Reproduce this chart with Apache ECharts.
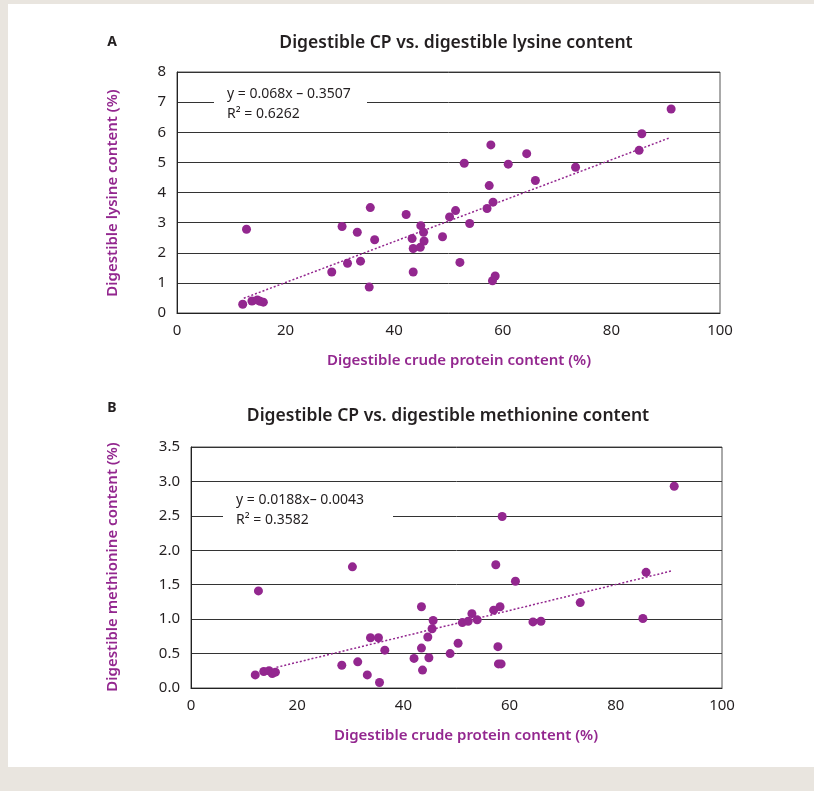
<!DOCTYPE html>
<html><head><meta charset="utf-8">
<script src="https://cdn.jsdelivr.net/npm/echarts@6/dist/echarts.min.js"></script>
<style>html,body{margin:0;padding:0;background:#e9e5df;}#c{width:814px;height:791px;}</style>
</head><body><div id="c"></div>
<script>
// Panel A: digestible CP (%) vs digestible lysine (%)
const lysineX = [12.8,12.1,13.8,14.8,15.3,15.9,28.5,30.4,31.4,33.2,33.8,35.4,35.6,36.4,42.2,43.3,43.5,43.5,44.8,44.9,45.4,45.5,48.9,50.2,51.3,52.1,52.9,53.9,57.1,57.5,57.8,58.2,58.1,58.6,61.0,64.4,66.0,73.4,85.1,85.6,91.0];
const lysineY = [2.78,0.29,0.40,0.43,0.39,0.36,1.36,2.87,1.65,2.68,1.72,0.86,3.50,2.43,3.27,2.47,2.14,1.36,2.18,2.90,2.68,2.39,2.53,3.19,3.40,1.68,4.97,2.97,3.47,4.23,5.58,3.68,1.07,1.23,4.94,5.29,4.40,4.84,5.40,5.95,6.77];
const lysineTrendX = [12.3, 90.8];
const lysineTrendY = [0.49, 5.82];
// Panel B: digestible CP (%) vs digestible methionine (%)
const methX = [12.7,12.1,13.7,14.7,15.3,15.9,28.4,30.4,31.4,33.2,33.8,35.3,35.5,36.5,42.0,43.4,43.4,43.6,44.6,44.8,45.4,45.6,48.8,50.3,51.1,52.2,52.9,53.9,57.0,58.2,57.4,58.6,57.8,57.9,58.4,61.1,64.4,65.9,73.3,85.1,85.7,91.0];
const methY = [1.41,0.19,0.24,0.25,0.21,0.23,0.33,1.76,0.38,0.19,0.73,0.73,0.08,0.55,0.43,1.18,0.58,0.26,0.74,0.44,0.86,0.98,0.50,0.65,0.95,0.97,1.08,0.99,1.13,1.18,1.79,2.49,0.60,0.35,0.35,1.55,0.96,0.97,1.24,1.01,1.68,2.93];
const methTrendX = [16.1, 90.5];
const methTrendY = [0.30, 1.70];

const titleA = 'Digestible CP vs. digestible lysine content';
const titleB = 'Digestible CP vs. digestible methionine content';
const xName = 'Digestible crude protein content (%)';
const yNameA = 'Digestible lysine content (%)';
const yNameB = 'Digestible methionine content (%)';
const eqA = ['y = 0.068x \u2013 0.3507', 'R\u00b2 = 0.6262'];
const eqB = ['y = 0.0188x\u2013 0.0043', 'R\u00b2 = 0.3582'];

const PURPLE = '#93278f';
const TEXTC = '#231f20';
const FONT = '"Noto Sans", "Open Sans", sans-serif';

const zip = (a, b) => a.map((v, i) => [v, b[i]]);

const chart = echarts.init(document.getElementById('c'), null, {renderer: 'canvas'});

function xAxisCfg(gi) {
  return {
    gridIndex: gi, type: 'value', min: 0, max: 100, interval: 20,
    axisLine: {show: true, lineStyle: {color: '#222', width: 1}},
    axisTick: {show: false}, splitLine: {show: false},
    axisLabel: {fontSize: 15, color: TEXTC, fontFamily: FONT, margin: 10}
  };
}
function yAxisCfg(gi, max, interval, dec) {
  return {
    gridIndex: gi, type: 'value', min: 0, max: max, interval: interval,
    axisLine: {show: true, lineStyle: {color: '#222', width: 1}},
    axisTick: {show: false},
    splitLine: {show: true, lineStyle: {color: '#333', width: 1}},
    axisLabel: {fontSize: 15, color: TEXTC, fontFamily: FONT, margin: 11,
      formatter: v => dec ? v.toFixed(dec) : String(v)}
  };
}

function eqGraphic(x, y, w, h, lines) {
  return [
    {type: 'rect', left: x, top: y, shape: {width: w, height: h}, style: {fill: '#fff'}, z: 50},
    {type: 'text', left: x + 13, top: y + 1, z: 51,
      style: {text: lines[0], fill: TEXTC, font: '14px ' + FONT}},
    {type: 'text', left: x + 13, top: y + 21, z: 51,
      style: {text: lines[1], fill: TEXTC, font: '14px ' + FONT}}
  ];
}

const option = {
  animation: false,
  backgroundColor: '#e9e5df',
  grid: [
    {left: 177, top: 72, width: 543, height: 241, show: true, borderColor: '#555', borderWidth: 1, backgroundColor: 'transparent'},
    {left: 191, top: 447, width: 531, height: 241, show: true, borderColor: '#555', borderWidth: 1, backgroundColor: 'transparent'}
  ],
  xAxis: [xAxisCfg(0), xAxisCfg(1)],
  yAxis: [yAxisCfg(0, 8, 1, 0), yAxisCfg(1, 3.5, 0.5, 1)],
  graphic: [
    {type: 'rect', left: 8, top: 4, shape: {width: 806, height: 763}, style: {fill: '#ffffff'}, z: -10, silent: true},
    {type: 'text', x: 112, y: 42, style: {text: 'A', fill: TEXTC, font: 'bold 14px ' + FONT, textAlign: 'center', textVerticalAlign: 'middle'}},
    {type: 'text', x: 112, y: 408, style: {text: 'B', fill: TEXTC, font: 'bold 14px ' + FONT, textAlign: 'center', textVerticalAlign: 'middle'}},
    {type: 'text', x: 456, y: 43, style: {text: titleA, fill: TEXTC, font: '600 17.5px ' + FONT, textAlign: 'center', textVerticalAlign: 'middle'}},
    {type: 'text', x: 448, y: 416, style: {text: titleB, fill: TEXTC, font: '600 17.5px ' + FONT, textAlign: 'center', textVerticalAlign: 'middle'}},
    {type: 'text', x: 459, y: 361, style: {text: xName, fill: PURPLE, font: '600 15px ' + FONT, textAlign: 'center', textVerticalAlign: 'middle'}},
    {type: 'text', x: 466, y: 736, style: {text: xName, fill: PURPLE, font: '600 15px ' + FONT, textAlign: 'center', textVerticalAlign: 'middle'}},
    {type: 'text', x: 113, y: 193, rotation: Math.PI / 2, style: {text: yNameA, fill: PURPLE, font: '600 15px ' + FONT, textAlign: 'center', textVerticalAlign: 'middle'}},
    {type: 'text', x: 113, y: 567, rotation: Math.PI / 2, style: {text: yNameB, fill: PURPLE, font: '600 15px ' + FONT, textAlign: 'center', textVerticalAlign: 'middle'}},
    ...eqGraphic(214, 86, 153, 40, eqA),
    ...eqGraphic(223, 492, 170, 46, eqB)
  ],
  series: [
    {type: 'scatter', xAxisIndex: 0, yAxisIndex: 0, data: zip(lysineX, lysineY), symbolSize: 9, itemStyle: {color: PURPLE, opacity: 1}, z: 5},
    {type: 'line', xAxisIndex: 0, yAxisIndex: 0, data: zip(lysineTrendX, lysineTrendY), showSymbol: false, symbol: 'none', lineStyle: {color: PURPLE, width: 1.5, type: [2, 2]}, z: 4},
    {type: 'scatter', xAxisIndex: 1, yAxisIndex: 1, data: zip(methX, methY), symbolSize: 9, itemStyle: {color: PURPLE, opacity: 1}, z: 5},
    {type: 'line', xAxisIndex: 1, yAxisIndex: 1, data: zip(methTrendX, methTrendY), showSymbol: false, symbol: 'none', lineStyle: {color: PURPLE, width: 1.5, type: [2, 2]}, z: 4}
  ]
};
chart.setOption(option);
</script>
</body></html>
